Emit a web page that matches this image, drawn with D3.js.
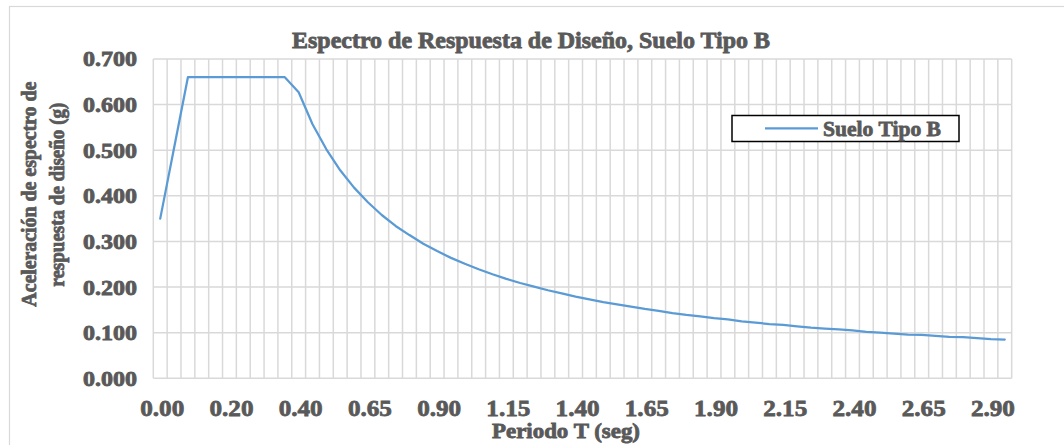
<!DOCTYPE html>
<html>
<head>
<meta charset="utf-8">
<script src="https://cdn.jsdelivr.net/npm/d3@7"></script>
<style>
  html, body { margin: 0; padding: 0; background: #fff; }
  svg { display: block; }
  text { font-family: "Liberation Serif", "DejaVu Serif", serif; font-weight: bold; fill: #595959; stroke: #595959; stroke-width: 0.8px; }
</style>
</head>
<body>
<svg id="chart" width="1064" height="445"></svg>
<script>
// ---- data ----
const periods = ["0.00","0.04","0.08","0.10","0.15","0.20","0.25","0.30","0.35","0.38",
  "0.40","0.45","0.50","0.55","0.60","0.65","0.70","0.75","0.80","0.85",
  "0.90","0.95","1.00","1.05","1.10","1.15","1.20","1.25","1.30","1.35",
  "1.40","1.45","1.50","1.55","1.60","1.65","1.70","1.75","1.80","1.85",
  "1.90","1.95","2.00","2.05","2.10","2.15","2.20","2.25","2.30","2.35",
  "2.40","2.45","2.50","2.55","2.60","2.65","2.70","2.75","2.80","2.85",
  "2.90","2.95"];
const sueloTipoB = [0.350,0.505,0.660,0.660,0.660,0.660,0.660,0.660,0.660,0.660,
  0.627,0.557,0.502,0.456,0.418,0.386,0.358,0.334,0.314,0.295,
  0.279,0.264,0.251,0.239,0.228,0.218,0.209,0.201,0.193,0.186,
  0.179,0.173,0.167,0.162,0.157,0.152,0.148,0.143,0.139,0.136,
  0.132,0.129,0.125,0.122,0.119,0.117,0.114,0.111,0.109,0.107,
  0.105,0.102,0.100,0.098,0.096,0.095,0.093,0.091,0.090,0.088,
  0.086,0.085];
const yTicks = [0, 0.1, 0.2, 0.3, 0.4, 0.5, 0.6, 0.7];
const xTickLabels = ["0.00","0.20","0.40","0.65","0.90","1.15","1.40","1.65","1.90","2.15","2.40","2.65","2.90"];
const seriesName = "Suelo Tipo B";
const titleText = "Espectro de Respuesta de Diseño, Suelo Tipo B";
const xTitle = "Periodo T (seg)";
const yTitleLines = ["Aceleración de espectro de", "respuesta de diseño (g)"];

// ---- layout ----
const svg = d3.select("#chart");
const plotL = 153.3, plotR = 1011.7, plotT = 59, plotB = 378.3;
const gridColor = "#d9d9d9";
const lineColor = "#5b9bd5";

// chart border
svg.append("rect").attr("x", 9.5).attr("y", 6.5).attr("width", 1100).attr("height", 500)
  .attr("fill", "#fff").attr("stroke", gridColor).attr("stroke-width", 1.2);

const x = d3.scaleBand().domain(periods).range([plotL, plotR]).paddingInner(0).paddingOuter(0);
const y = d3.scaleLinear().domain([0, 0.7]).range([plotB, plotT]);

// gridlines
const grid = svg.append("g");
grid.selectAll("line.h").data(yTicks).join("line")
  .attr("x1", plotL).attr("x2", plotR)
  .attr("y1", d => y(d)).attr("y2", d => y(d))
  .attr("stroke", gridColor).attr("stroke-width", 1.5);
const vEdges = periods.map(p => x(p)).concat([plotR]);
grid.selectAll("line.v").data(vEdges).join("line")
  .attr("x1", d => d).attr("x2", d => d)
  .attr("y1", plotT).attr("y2", plotB)
  .attr("stroke", gridColor).attr("stroke-width", 1.5);

// y axis labels
const yAxis = d3.axisLeft(y).tickValues(yTicks).tickSize(0).tickPadding(0).tickFormat(d3.format(".3f"));
const gy = svg.append("g").attr("transform", `translate(137,0)`).call(yAxis);
gy.select(".domain").remove();
gy.selectAll("text")
  .attr("font-size", 21).attr("dy", "0.33em")
  .attr("textLength", 54).attr("lengthAdjust", "spacingAndGlyphs")
  .style("font-family", "Liberation Serif").style("font-weight", "bold").attr("fill", "#595959");

// x axis labels
const xAxis = d3.axisBottom(x).tickValues(xTickLabels).tickSize(0).tickPadding(0);
const gx = svg.append("g").attr("transform", `translate(2,${plotB})`).call(xAxis);
gx.select(".domain").remove();
gx.selectAll("text")
  .attr("font-size", 24).attr("y", 38).attr("dy", 0)
  .attr("textLength", 44).attr("lengthAdjust", "spacingAndGlyphs")
  .style("font-family", "Liberation Serif").style("font-weight", "bold").attr("fill", "#595959");

// series line
const line = d3.line()
  .x((d, i) => x(periods[i]) + x.bandwidth() / 2)
  .y(d => y(d));
svg.append("path").datum(sueloTipoB)
  .attr("d", line)
  .attr("fill", "none").attr("stroke", lineColor).attr("stroke-width", 2.25)
  .attr("stroke-linejoin", "round").attr("stroke-linecap", "round");

// title
svg.append("text").attr("x", 292).attr("y", 48)
  .attr("font-size", 23).attr("textLength", 478).attr("lengthAdjust", "spacingAndGlyphs")
  .text(titleText);

// x title
svg.append("text").attr("x", 492).attr("y", 438)
  .attr("font-size", 20).attr("textLength", 148).attr("lengthAdjust", "spacingAndGlyphs")
  .text(xTitle);

// y title
const yt = svg.append("g");
yt.append("text").attr("transform", "translate(36,306.7) rotate(-90)")
  .attr("font-size", 21).attr("textLength", 225).attr("lengthAdjust", "spacingAndGlyphs")
  .text(yTitleLines[0]);
yt.append("text").attr("transform", "translate(64,286.7) rotate(-90)")
  .attr("font-size", 21).attr("textLength", 184).attr("lengthAdjust", "spacingAndGlyphs")
  .text(yTitleLines[1]);

// legend
const lg = svg.append("g");
lg.append("rect").attr("x", 732).attr("y", 115.5).attr("width", 227).attr("height", 26)
  .attr("fill", "#fff").attr("stroke", "#000").attr("stroke-width", 1.5);
lg.append("line").attr("x1", 765).attr("x2", 818).attr("y1", 128.3).attr("y2", 128.3)
  .attr("stroke", lineColor).attr("stroke-width", 2.25);
lg.append("text").attr("x", 823).attr("y", 135.7)
  .attr("font-size", 22).attr("textLength", 118).attr("lengthAdjust", "spacingAndGlyphs")
  .text(seriesName);
</script>
</body>
</html>
